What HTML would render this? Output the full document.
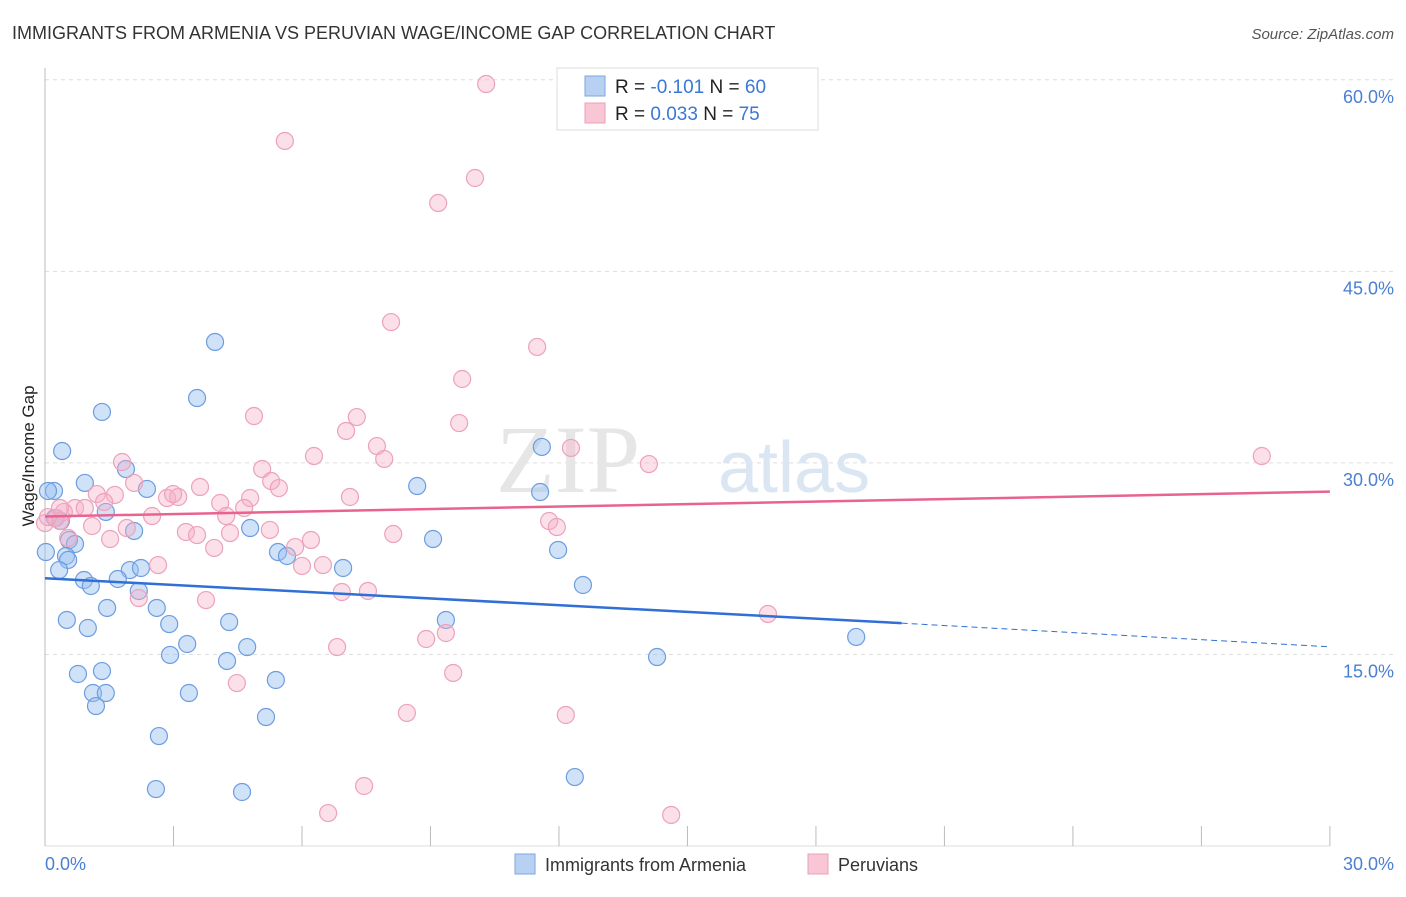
<!DOCTYPE html>
<html><head><meta charset="utf-8"><style>
body{margin:0;background:#fff;font-family:"Liberation Sans",sans-serif;}
</style></head><body>
<svg width="1406" height="892" viewBox="0 0 1406 892" xmlns="http://www.w3.org/2000/svg">
<text x="12" y="39" font-size="18" fill="#333">IMMIGRANTS FROM ARMENIA VS PERUVIAN WAGE/INCOME GAP CORRELATION CHART</text>
<text x="1394" y="39" font-size="15" fill="#555" font-style="italic" text-anchor="end">Source: ZipAtlas.com</text>
<g id="grid"></g>
<text x="640" y="492" font-size="96" font-family="Liberation Serif" fill="#e6e6e6" text-anchor="end">ZIP</text>
<text x="718" y="492" font-size="72" fill="#dbe6f3">atlas</text>
<line x1="45" y1="68" x2="45" y2="846" stroke="#bbb"/>
<line x1="45" y1="846" x2="1330" y2="846" stroke="#ddd"/>
<g id="ticks"></g>
<text transform="translate(34,456) rotate(-90)" font-size="17" fill="#222" text-anchor="middle">Wage/Income Gap</text>
<text x="45" y="870" font-size="18" fill="#4a7fd4">0.0%</text>
<text x="1394" y="870" font-size="18" fill="#4a7fd4" text-anchor="end">30.0%</text>
<g id="pts"></g>
<g id="lines"></g>
<g>
<rect x="557" y="68" width="261" height="62" fill="#fff" stroke="#ddd"/>
<rect x="585" y="76" width="20" height="20" fill="#b8d1f3" stroke="#7ea6e0"/>
<rect x="585" y="103" width="20" height="20" fill="#f9c6d5" stroke="#eba0b7"/>
<text x="615" y="93" font-size="19" fill="#222">R = <tspan fill="#3a78d4">-0.101</tspan>   N = <tspan fill="#3a78d4">60</tspan></text>
<text x="615" y="120" font-size="19" fill="#222">R = <tspan fill="#3a78d4"> 0.033</tspan>   N = <tspan fill="#3a78d4"> 75</tspan></text>
</g>
<g>
<rect x="515" y="854" width="20" height="20" fill="#b8d1f3" stroke="#7ea6e0"/>
<text x="545" y="871" font-size="18" fill="#333">Immigrants from Armenia</text>
<rect x="808" y="854" width="20" height="20" fill="#f9c6d5" stroke="#eba0b7"/>
<text x="838" y="871" font-size="18" fill="#333">Peruvians</text>
</g>
</svg>
<script>
const yTicks=[15,30,45,60];
const xTickCount=10;
const bluePx=[[215,342],[197,398],[102,412],[62,451],[542,447],[126,469],[85,483],[147,489],[54,491],[48,491],[417,486],[540,492],[55,518],[106,512],[250,528],[134,531],[433,539],[69,540],[75,544],[278,552],[287,556],[558,550],[46,552],[66,556],[68,560],[59,570],[343,568],[130,570],[141,568],[84,580],[118,579],[91,586],[583,585],[139,591],[107,608],[157,608],[67,620],[169,624],[229,622],[88,628],[446,620],[187,644],[247,647],[856,637],[170,655],[227,661],[657,657],[78,674],[102,671],[93,693],[106,693],[189,693],[276,680],[96,706],[266,717],[159,736],[575,777],[156,789],[242,792],[61,521]];
const pinkPx=[[486,84],[285,141],[475,178],[438,203],[391,322],[537,347],[462,379],[254,416],[357,417],[346,431],[459,423],[122,462],[314,456],[377,446],[384,459],[571,448],[649,464],[1262,456],[262,469],[134,483],[271,481],[200,487],[279,488],[97,494],[115,495],[167,498],[178,497],[173,494],[350,497],[250,498],[104,502],[75,508],[85,508],[220,503],[244,508],[226,516],[152,516],[64,512],[56,518],[60,521],[45,523],[92,526],[549,521],[557,527],[186,532],[197,535],[230,533],[270,530],[393,534],[68,538],[110,539],[311,540],[295,547],[214,548],[127,528],[158,565],[323,565],[302,566],[342,592],[368,591],[139,598],[206,600],[768,614],[446,633],[426,639],[337,647],[453,673],[237,683],[407,713],[566,715],[364,786],[328,813],[671,815],[48,517],[60,508]];
// data values (x %, y %) derived from picture
const blueX=bluePx.map(p=>+((p[0]-45)/42.83).toFixed(2));
const blueY=bluePx.map(p=>+((846-p[1])/12.77).toFixed(2));
const pinkX=pinkPx.map(p=>+((p[0]-45)/42.83).toFixed(2));
const pinkY=pinkPx.map(p=>+((846-p[1])/12.77).toFixed(2));
const blueTrend=[20.97,17.45,15.6]; // at x=0, 20, 30
const pinkTrend=[25.8,27.75]; // at x=0, 30
const sx=v=>45+v*42.83, sy=v=>846-v*12.77;
const NS="http://www.w3.org/2000/svg";
function mk(t,a,p){const e=document.createElementNS(NS,t);for(const k in a)e.setAttribute(k,a[k]);p.appendChild(e);return e;}
const grid=document.getElementById('grid');
yTicks.forEach(v=>{
 const l=mk('line',{x1:45,x2:1394,y1:sy(v),y2:sy(v),stroke:'#ddd','stroke-dasharray':'4,4'},grid);
 
 
 const t=mk('text',{x:1394,y:sy(v)+23,'font-size':18,fill:'#4a7fd4','text-anchor':'end'},grid);
 t.textContent=v.toFixed(1)+'%';
 
 
});
const ticks=document.getElementById('ticks');
for(let i=0;i<=xTickCount;i++){
 const x=sx(i*3);
 const l=mk('line',{x1:x,x2:x,y1:826,y2:846,stroke:'#bbb'},ticks);
 
 
}
const pts=document.getElementById('pts');
blueX.forEach((x,i)=>{
 const c=mk('circle',{cx:sx(x),cy:sy(blueY[i]),r:8.5,fill:'rgba(150,190,240,0.45)',stroke:'#6d9de0','stroke-width':1.2},pts);
 
 
});
pinkX.forEach((x,i)=>{
 const c=mk('circle',{cx:sx(x),cy:sy(pinkY[i]),r:8.5,fill:'rgba(245,175,200,0.4)',stroke:'#eda2ba','stroke-width':1.2},pts);
 
 
});
const lines=document.getElementById('lines');
let l=mk('line',{x1:sx(0),y1:sy(blueTrend[0]),x2:sx(20),y2:sy(blueTrend[1]),stroke:'#2f6fd6','stroke-width':2.5},lines);


l=mk('line',{x1:sx(20),y1:sy(blueTrend[1]),x2:sx(30),y2:sy(blueTrend[2]),stroke:'#2f6fd6','stroke-width':1,'stroke-dasharray':'6,4'},lines);


l=mk('line',{x1:sx(0),y1:sy(pinkTrend[0]),x2:sx(30),y2:sy(pinkTrend[1]),stroke:'#e8638f','stroke-width':2.5},lines);


</script>
</body></html>
